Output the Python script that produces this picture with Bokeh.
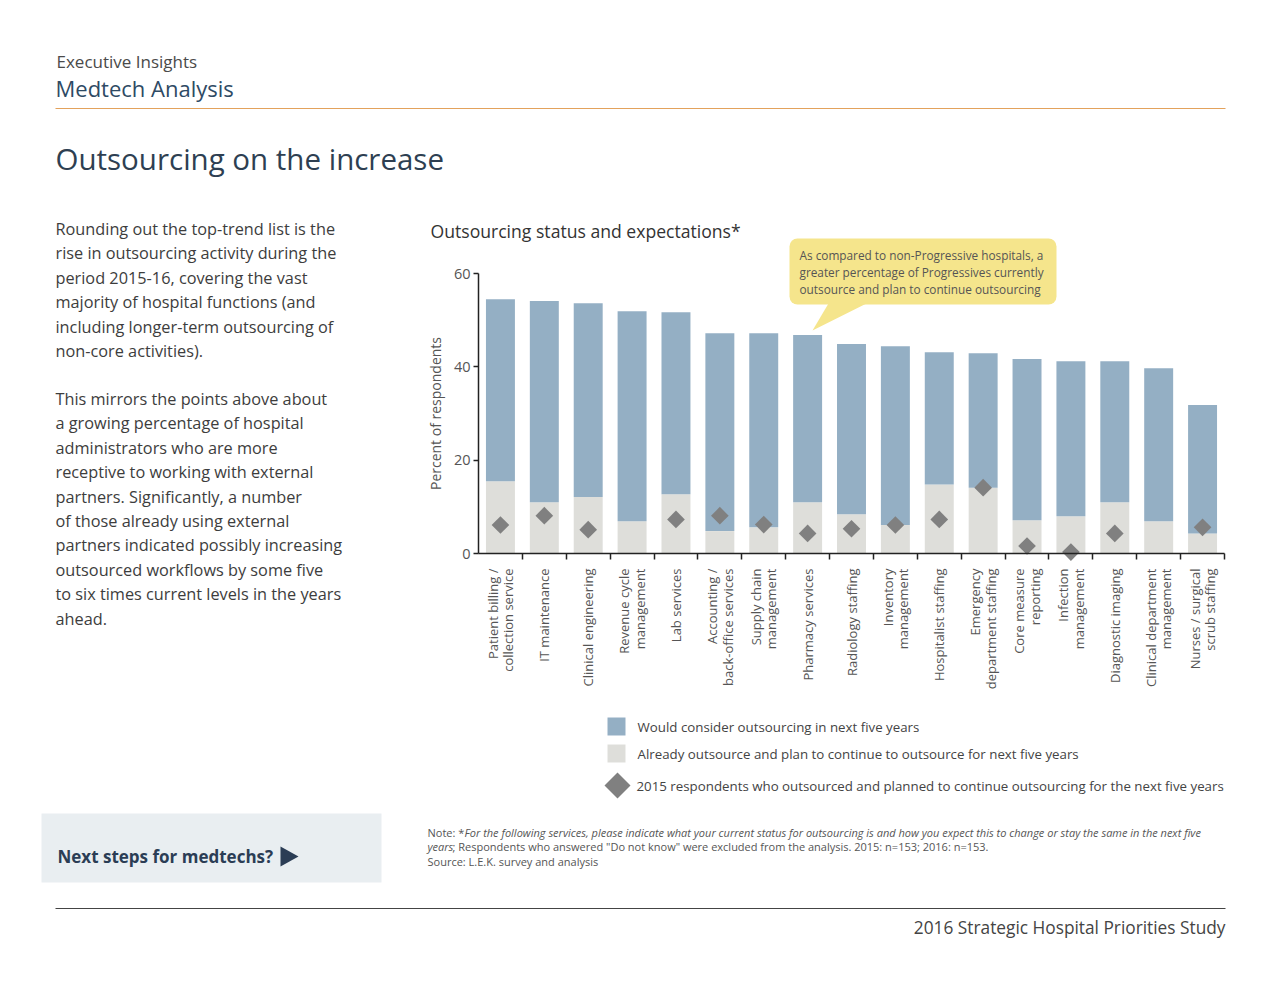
from math import pi
from bokeh.plotting import figure
from bokeh.models import (ColumnDataSource, FixedTicker, Label, BoxAnnotation,
                          PolyAnnotation, Range1d, LinearAxis)
from bokeh.embed import file_html
from bokeh.resources import INLINE

# ---------------- data ----------------
categories = [
    "Patient billing /\ncollection service",
    "IT maintenance",
    "Clinical engineering",
    "Revenue cycle\nmanagement",
    "Lab services",
    "Accounting /\nback-office services",
    "Supply chain\nmanagement",
    "Pharmacy services",
    "Radiology staffing",
    "Inventory\nmanagement",
    "Hospitalist staffing",
    "Emergency\ndepartment staffing",
    "Core measure\nreporting",
    "Infection\nmanagement",
    "Diagnostic imaging",
    "Clinical department\nmanagement",
    "Nurses / surgical\nscrub staffing",
]
already = [15.5, 11.0, 12.1, 6.9, 12.7, 4.8, 5.6, 11.0, 8.4, 6.1, 14.8, 14.1, 7.1, 8.0, 11.0, 6.9, 4.3]
would_consider = [39.0, 43.1, 41.5, 45.0, 39.0, 42.4, 41.6, 35.8, 36.5, 38.3, 28.3, 28.8, 34.6, 33.2, 30.2, 32.8, 27.5]
nan = float("nan")
resp_2015 = [6.1, 8.1, 5.1, nan, 7.3, 8.1, 6.2, 4.3, 5.3, 6.1, 7.3, 14.1, 1.6, 0.3, 4.3, nan, 5.6]
y_ticks = [0, 20, 40, 60]

legend_labels = [
    "Would consider outsourcing in next five years",
    "Already outsource and plan to continue to outsource for next five years",
    "2015 respondents who outsourced and planned to continue outsourcing for the next five years",
]
paragraph_1 = [
    "Rounding out the top-trend list is the",
    "rise in outsourcing activity during the",
    "period 2015-16, covering the vast",
    "majority of hospital functions (and",
    "including longer-term outsourcing of",
    "non-core activities).",
]
paragraph_2 = [
    "This mirrors the points above about",
    "a growing percentage of hospital",
    "administrators who are more",
    "receptive to working with external",
    "partners. Significantly, a number",
    "of those already using external",
    "partners indicated possibly increasing",
    "outsourced workflows by some five",
    "to six times current levels in the years",
    "ahead.",
]
callout_lines = [
    "As compared to non-Progressive hospitals, a",
    "greater percentage of Progressives currently",
    "outsource and plan to continue outsourcing",
]

# ---------------- styles / layout ----------------
FONT = "Open Sans"
BLUE = "#94AFC4"
GREY = "#DEDEDA"
DIAMOND = "#808080"
TXT = "#444444"

W, H = 1270, 980
# chart plotting area on the page (pixels)
CH_L, CH_R, CH_T, CH_B = 478, 1224, 273, 553
N = len(categories)
Y_MAX = 60

PX = (CH_R - CH_L) / N
PY = (CH_B - CH_T) / Y_MAX

# page coordinates (pixels, y downward) as default ranges
p = figure(width=W, height=H, x_range=Range1d(0, W), y_range=Range1d(H, 0),
           x_axis_type=None, y_axis_type=None, min_border=0,
           output_backend="svg", toolbar_location=None)
p.outline_line_color = None
p.background_fill_color = "white"
p.border_fill_color = "white"

# chart ranges mapped onto the chart area
p.extra_x_ranges = {"cx": Range1d(-CH_L / PX, N + (W - CH_R) / PX)}
p.extra_y_ranges = {"cy": Range1d(-(H - CH_B) / PY, Y_MAX + CH_T / PY)}

xs = [i + 0.5 for i in range(N)]
src = ColumnDataSource(dict(x=xs, already=already, would=would_consider, r2015=resp_2015))
p.vbar_stack(["already", "would"], x="x", width=0.66, source=src,
             fill_color=[GREY, BLUE], line_color=None,
             x_range_name="cx", y_range_name="cy")

# axes
xax = LinearAxis(x_range_name="cx", y_range_name="cy", bounds=(0, N),
                 ticker=FixedTicker(ticks=list(range(1, N + 1))))
xax.fixed_location = 0
xax.major_label_overrides = {i: "" for i in range(1, N + 1)}
xax.major_tick_in = 0
xax.major_tick_out = 6
xax.minor_tick_line_color = None
xax.axis_line_color = "#222222"
xax.axis_line_width = 1.5
xax.major_tick_line_color = "#222222"
xax.major_tick_line_width = 1.5
p.add_layout(xax, "below")

yax = LinearAxis(x_range_name="cx", y_range_name="cy", bounds=(0, Y_MAX),
                 ticker=FixedTicker(ticks=y_ticks))
yax.fixed_location = 0
yax.major_tick_in = 0
yax.major_tick_out = 5
yax.minor_tick_line_color = None
yax.axis_line_color = "#222222"
yax.axis_line_width = 1.5
yax.major_tick_line_color = "#222222"
yax.major_tick_line_width = 1.5
yax.major_label_text_font = FONT
yax.major_label_text_font_size = "14.5px"
yax.major_label_text_color = "#555555"
yax.major_label_standoff = 3
yax.axis_label = "Percent of respondents"
yax.axis_label_text_font = FONT
yax.axis_label_text_font_size = "14px"
yax.axis_label_text_font_style = "normal"
yax.axis_label_text_color = "#555555"
yax.axis_label_standoff = 6
p.add_layout(yax, "left")

p.scatter(x="x", y="r2015", marker="square", angle=pi / 4, size=12.5,
          fill_color=DIAMOND, line_color=None, source=src,
          x_range_name="cx", y_range_name="cy")


def text(X, Y, t, size, color=TXT, style="normal", align="left", baseline="middle"):
    p.add_layout(Label(x=X, y=Y, text=t, text_font=FONT, text_font_size=size,
                       text_color=color, text_font_style=style,
                       text_align=align, text_baseline=baseline))


def box(x0, y0, x1, y1, color, radius=0):
    p.add_layout(BoxAnnotation(left=x0, right=x1, top=y0, bottom=y1,
                               fill_color=color, fill_alpha=1.0, line_color=None,
                               border_radius=radius))


def poly(pts, color):
    p.add_layout(PolyAnnotation(xs=[a for a, b in pts], ys=[b for a, b in pts],
                                fill_color=color, fill_alpha=1.0, line_color=None))


# category labels (rotated), positioned by the chart scale
for i, cat in enumerate(categories):
    lines = cat.split("\n")
    n = len(lines)
    for j, ln in enumerate(lines):
        p.add_layout(Label(x=xs[i], y=0, x_range_name="cx", y_range_name="cy", text=ln,
                           angle=pi / 2, text_align="right", text_baseline="middle",
                           x_offset=(j - (n - 1) / 2) * 15.5, y_offset=-15,
                           text_font=FONT, text_font_size="13px", text_color="#555555"))

# header
text(56, 61, "Executive Insights", "17px", color="#4a4a4a")
text(55, 87, "Medtech Analysis", "22px", color="#2E4A64")
box(55, 107.5, 1225, 108.5, "#E3A25C")
text(55, 158, "Outsourcing on the increase", "29.5px", color="#2E3F52")

# left paragraphs
for k, ln in enumerate(paragraph_1):
    text(55, 228.5 + 24.4 * k, ln, "16.3px", color="#3d3d3d")
for k, ln in enumerate(paragraph_2):
    text(55, 398.5 + 24.4 * k, ln, "16.3px", color="#3d3d3d")

# next steps box
box(41, 813, 381, 882, "#E9EEF1")
text(57, 856, "Next steps for medtechs?", "17px", color="#2B3D55", style="bold")
poly([(280, 846), (280, 866), (298, 856)], "#2B3D55")

# chart title
text(430, 230.5, "Outsourcing status and expectations*", "17.6px", color="#333333")

# callout
box(789, 238, 1056, 304, "#F5E58C", radius=8)
poly([(828, 303), (866, 303), (812, 330)], "#F5E58C")
for k, ln in enumerate(callout_lines):
    text(799, 254 + 17 * k, ln, "11.8px", color="#555555")

# legend
box(607, 717, 625, 735, BLUE)
box(607, 744, 625, 762, GREY)
poly([(604, 785), (617, 772), (630, 785), (617, 798)], DIAMOND)
text(637, 726, legend_labels[0], "13.3px")
text(637, 753, legend_labels[1], "13.3px")
text(636, 785, legend_labels[2], "13.3px")

# note
NOTE = "#555555"
text(427, 832, "Note: *", "11px", color=NOTE)
text(464, 832, "For the following services, please indicate what your current status for outsourcing is and how you expect this to change or stay the same in the next five",
     "11px", color=NOTE, style="italic")
text(427, 846, "years", "11px", color=NOTE, style="italic")
text(452, 846, "; Respondents who answered \"Do not know\" were excluded from the analysis. 2015: n=153; 2016: n=153.",
     "11px", color=NOTE)
text(427, 861, "Source: L.E.K. survey and analysis", "11px", color=NOTE)

# footer
box(55, 907.5, 1225, 908.5, "#444444")
text(1225, 927, "2016 Strategic Hospital Priorities Study", "17.3px", color="#444444", align="right")

open("out.html", "w").write(file_html(p, INLINE))
